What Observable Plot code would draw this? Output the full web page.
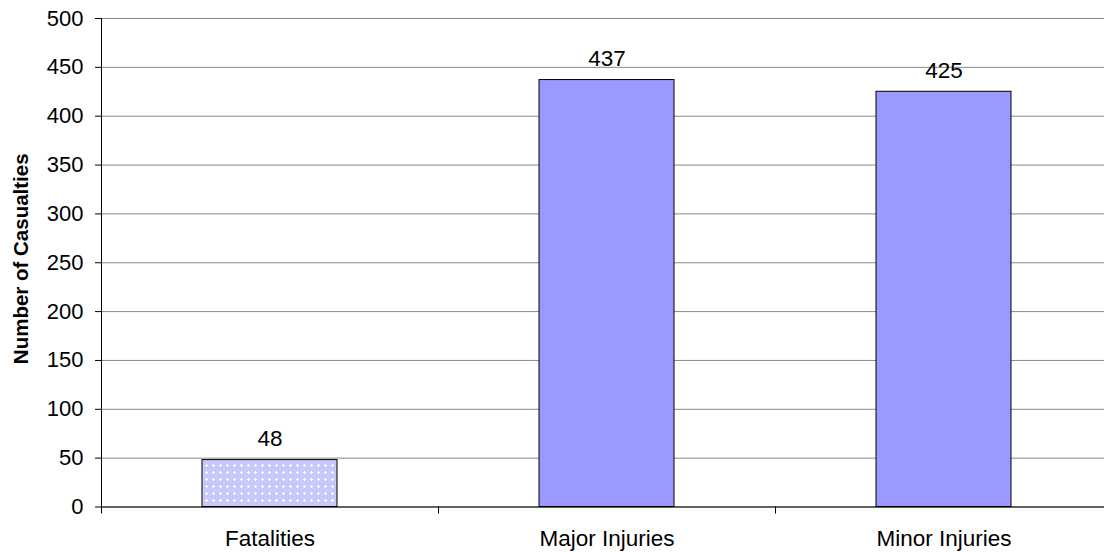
<!DOCTYPE html>
<html>
<head>
<meta charset="utf-8">
<script src="https://cdn.jsdelivr.net/npm/d3@7"></script>
<script src="https://cdn.jsdelivr.net/npm/@observablehq/plot@0.6"></script>
<style>
  html, body { margin: 0; padding: 0; background: #fff; overflow: hidden; }
  #chart { width: 1104px; height: 552px; overflow: hidden; }
</style>
</head>
<body>
<div id="chart"></div>
<script>
const categories = ["Fatalities", "Major Injuries", "Minor Injuries"];
const values = [48, 437, 425];
const yTicks = [0, 50, 100, 150, 200, 250, 300, 350, 400, 450, 500];
const yLabel = "Number of Casualties";
const patterned = ["Fatalities"];

const data = categories.map((c, i) => ({category: c, value: values[i]}));

const W = 1104, H = 552;
const marginLeft = 101, marginRight = -8;
const step = (W - marginLeft - marginRight) / categories.length;

const defs = () => {
  const g = d3.create("svg:defs");
  const p = g.append("pattern")
    .attr("id", "dots")
    .attr("patternUnits", "userSpaceOnUse")
    .attr("width", 7).attr("height", 7);
  p.append("rect").attr("width", 7).attr("height", 7).attr("fill", "#c8c8fc");
  p.append("path").attr("d", "M3,2h1v3h-1z M2,3h3v1h-3z").attr("fill", "#ffffff");
  return g.node();
};

const chart = Plot.plot({
  width: W,
  height: H,
  marginLeft,
  marginRight,
  marginTop: 18,
  marginBottom: 45.5,
  style: {fontFamily: "'Liberation Sans', Arial, sans-serif", fontSize: "22px", color: "#000", background: "#fff"},
  x: {domain: categories, paddingInner: 0.6, paddingOuter: 0.3},
  y: {domain: [0, 500]},
  marks: [
    defs,
    Plot.gridY(yTicks, {stroke: "#888888", strokeOpacity: 1, strokeWidth: 1}),
    Plot.barY(data.filter(d => patterned.includes(d.category)), {x: "category", y: "value", fill: "url(#dots)", stroke: "#000", strokeWidth: 1}),
    Plot.barY(data.filter(d => !patterned.includes(d.category)), {x: "category", y: "value", fill: "#9999ff", stroke: "#000", strokeWidth: 1}),
    Plot.text(data, {x: "category", y: "value", text: d => String(d.value), dy: -21, fontSize: 22.5, fill: "#000"}),
    Plot.axisY({ticks: yTicks, tickSize: 6, tickPadding: 12, fontSize: 22, label: null, stroke: "#000"}),
    Plot.ruleX([0], {x: () => categories[0], dx: -step / 2, stroke: "#000"}),
    Plot.ruleY([0], {stroke: "#000"}),
    Plot.ruleX(categories, {x: d => d, y1: 0, y2: 0, insetBottom: -7, dx: -step / 2, stroke: "#000"}),
    Plot.axisX({tickSize: 0, tickPadding: 23, fontSize: 22.5, label: null}),
    Plot.text([yLabel], {frameAnchor: "left", rotate: -90, textAnchor: "middle", dx: -80, dy: -4, fontWeight: "bold", fontSize: 20.5, fill: "#000"})
  ]
});

document.getElementById("chart").appendChild(chart);
</script>
</body>
</html>
